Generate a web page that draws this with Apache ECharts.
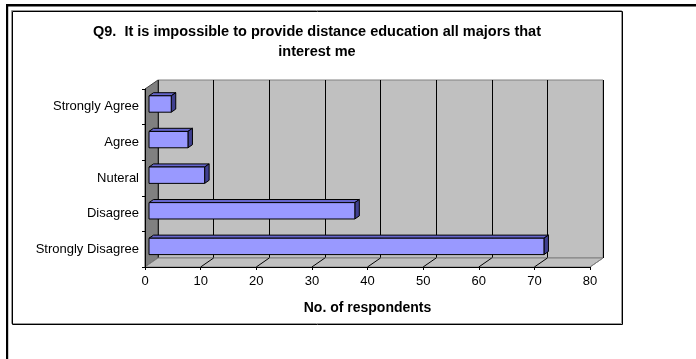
<!DOCTYPE html>
<html>
<head>
<meta charset="utf-8">
<script src="https://cdn.jsdelivr.net/npm/echarts@6/dist/echarts.min.js"></script>
<style>
  html, body { margin: 0; padding: 0; background: #fff; }
  #chart { width: 696px; height: 359px; }
</style>
</head>
<body>
<div id="chart"></div>
<script>
// ----- data -----
var categories = ['Strongly Agree', 'Agree', 'Nuteral', 'Disagree', 'Strongly Disagree'];
var respondents = [4, 7, 10, 37, 71];
var xTicks = [0, 10, 20, 30, 40, 50, 60, 70, 80];

var font = '"Liberation Sans", Arial, sans-serif';
// 3D depth: front plane is offset from the back wall
var DX = -13, DY = 9;

var chart = echarts.init(document.getElementById('chart'), null, { renderer: 'canvas' });

function renderWalls(params, api) {
  var cs = params.coordSys;
  var l = cs.x, t = cs.y, r = cs.x + cs.width, b = cs.y + cs.height;
  var kids = [];
  // left wall
  kids.push({ type: 'polygon', shape: { points: [[l + DX, t + DY], [l, t], [l, b], [l + DX, b + DY]] },
    style: { fill: '#808080', stroke: '#404040', lineWidth: 1 } });
  // floor
  kids.push({ type: 'polygon', shape: { points: [[l + DX, b + DY], [l, b], [r, b], [r + DX, b + DY]] },
    style: { fill: '#C0C0C0', stroke: '#808080', lineWidth: 1 } });
  // floor grid lines
  xTicks.forEach(function(v) {
    if (v === 0) return;
    var p = api.coord([v, 0]);
    kids.push({ type: 'line', shape: { x1: p[0] + DX, y1: b + DY, x2: p[0], y2: b },
      style: { stroke: v === 80 ? '#808080' : '#000', lineWidth: 1 } });
  });
  return { type: 'group', children: kids };
}

function renderBar(params, api) {
  var idx = api.value(1), v = api.value(0);
  var p0 = api.coord([0, idx]);
  var p1 = api.coord([v, idx]);
  var band = api.size([0, 1])[1];
  var h = band * 0.46;
  var fx = -9, fy = 6.2, dx = 4.5, dy = 3.1;
  var x0 = p0[0] + fx, x1 = p1[0] + fx;
  var yt = p0[1] + fy - h / 2, yb = yt + h;
  return {
    type: 'group',
    children: [
      { type: 'polygon', shape: { points: [[x0, yt], [x1, yt], [x1 + dx, yt - dy], [x0 + dx, yt - dy]] },
        style: { fill: '#6666CC', stroke: '#000', lineWidth: 1 } },
      { type: 'polygon', shape: { points: [[x1, yt], [x1 + dx, yt - dy], [x1 + dx, yb - dy], [x1, yb]] },
        style: { fill: '#404090', stroke: '#000', lineWidth: 1 } },
      { type: 'rect', shape: { x: x0, y: yt, width: x1 - x0, height: h },
        style: { fill: '#9999FF', stroke: '#000', lineWidth: 1 } }
    ]
  };
}

chart.setOption({
  animation: false,
  backgroundColor: '#fff',
  textStyle: { fontFamily: font },
  graphic: [
    { type: 'rect', shape: { x: 6, y: 4, width: 690, height: 2.5 }, style: { fill: '#000' } },
    { type: 'rect', shape: { x: 6, y: 4, width: 2.2, height: 355 }, style: { fill: '#000' } },
    { type: 'rect', shape: { x: 11.5, y: 10.5, width: 610, height: 313 }, style: { fill: 'none', stroke: '#999', lineWidth: 1 } },
    { type: 'rect', shape: { x: 12.5, y: 11.5, width: 610, height: 313 }, style: { fill: 'none', stroke: '#000', lineWidth: 1 } },
    { type: 'text', x: 317, y: 22, style: {
        text: 'Q9.  It is impossible to provide distance education all majors that\ninterest me',
        align: 'center', verticalAlign: 'top', lineHeight: 20,
        font: 'bold 14.5px ' + font, fill: '#000' } }
  ],
  grid: [
    { left: 158, top: 80, width: 445, height: 178, show: true,
      backgroundColor: '#C0C0C0', borderColor: '#808080', borderWidth: 1 },
    { left: 145, top: 89, width: 445, height: 178 }
  ],
  xAxis: [
    { type: 'value', gridIndex: 0, min: 0, max: 80, interval: 10,
      axisLine: { show: false }, axisTick: { show: false }, axisLabel: { show: false },
      splitLine: { show: true, lineStyle: { color: '#000', width: 1 } } },
    { type: 'value', gridIndex: 1, min: 0, max: 80, interval: 10, z: 10,
      name: 'No. of respondents', nameLocation: 'middle', nameGap: 34,
      nameTextStyle: { fontFamily: font, fontWeight: 'bold', fontSize: 14, color: '#000' },
      axisLine: { show: true, lineStyle: { color: '#000', width: 1 } },
      axisTick: { show: true, length: 3, lineStyle: { color: '#000' } },
      axisLabel: { color: '#000', fontSize: 13, fontFamily: font, margin: 8 },
      splitLine: { show: false } }
  ],
  yAxis: [
    { type: 'category', gridIndex: 0, inverse: true, data: categories,
      axisLine: { show: false }, axisTick: { show: false }, axisLabel: { show: false },
      splitLine: { show: false } },
    { type: 'category', gridIndex: 1, inverse: true, data: categories, z: 10,
      axisLine: { show: true, lineStyle: { color: '#000', width: 1 } },
      axisTick: { show: true, length: 3, lineStyle: { color: '#000' } },
      axisLabel: { color: '#000', fontSize: 13, fontFamily: font, margin: 6 },
      splitLine: { show: false } }
  ],
  series: [
    { type: 'custom', name: 'walls', xAxisIndex: 0, yAxisIndex: 0, z: 1,
      renderItem: renderWalls, data: [[0, 0]], silent: true },
    { type: 'custom', name: 'No. of respondents', xAxisIndex: 0, yAxisIndex: 0, z: 3,
      renderItem: renderBar,
      data: respondents.map(function(v, i) { return [v, i]; }) }
  ]
});
</script>
</body>
</html>
